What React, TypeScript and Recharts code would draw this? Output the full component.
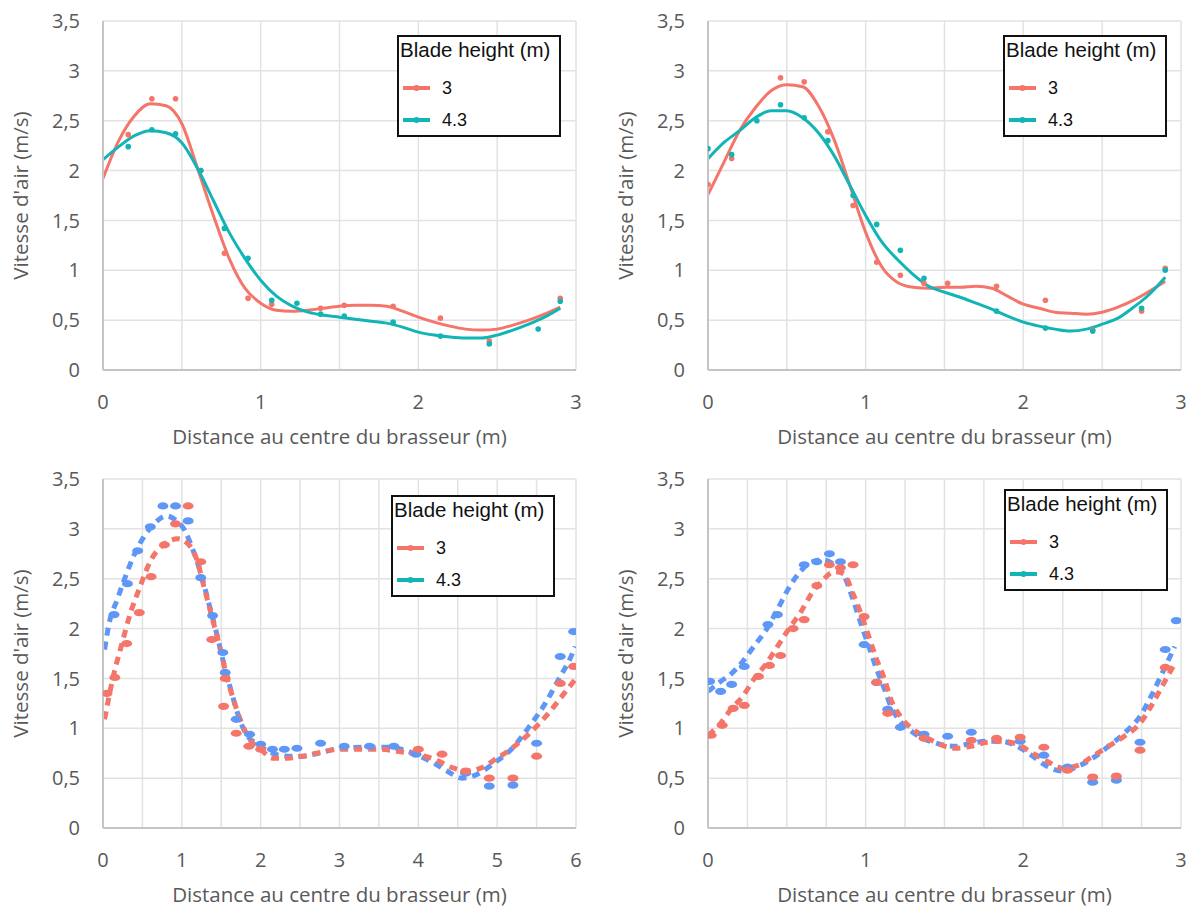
import React from "react";
import { ComposedChart, Line, Scatter, XAxis, YAxis, CartesianGrid } from "recharts";

// axes / labels
const Y_TICKS = [0, 0.5, 1, 1.5, 2, 2.5, 3, 3.5];
const X_TICKS_HALF_3 = [0, 0.5, 1, 1.5, 2, 2.5, 3];
const X_TICKS_HALF_6 = [0, 0.5, 1, 1.5, 2, 2.5, 3, 3.5, 4, 4.5, 5, 5.5, 6];
const X_TICKS_QUARTER_3 = [0, 0.25, 0.5, 0.75, 1, 1.25, 1.5, 1.75, 2, 2.25, 2.5, 2.75, 3];
const X_TITLE = "Distance au centre du brasseur (m)";
const Y_TITLE = "Vitesse d'air (m/s)";
const LEGEND_TITLE = "Blade height (m)";
const SERIES_NAMES = ["3", "4.3"];

const RED = "#F4756A";
const TEAL = "#12B4B6";
const BLUE = "#5F97F6";

// panel 1 (top left) — smoothed curves
const CURVE_X = [0, 0.1, 0.2, 0.3, 0.4, 0.5, 0.6, 0.7, 0.8, 0.9, 1.0, 1.1, 1.2, 1.3, 1.4, 1.5, 1.6, 1.7, 1.8, 1.9, 2.0, 2.1, 2.2, 2.3, 2.4, 2.5, 2.6, 2.7, 2.8, 2.9];
const P1_RED_Y = [1.92, 2.3, 2.55, 2.67, 2.65, 2.47, 2.02, 1.55, 1.12, 0.82, 0.67, 0.6, 0.59, 0.6, 0.62, 0.64, 0.65, 0.65, 0.64, 0.59, 0.53, 0.48, 0.44, 0.41, 0.4, 0.41, 0.45, 0.5, 0.56, 0.63];
const P1_TEAL_Y = [2.11, 2.24, 2.35, 2.4, 2.38, 2.28, 2.02, 1.7, 1.38, 1.12, 0.9, 0.74, 0.64, 0.58, 0.55, 0.53, 0.51, 0.49, 0.47, 0.43, 0.38, 0.35, 0.33, 0.32, 0.32, 0.35, 0.4, 0.46, 0.53, 0.62];
// panel 1 measured points
const P1_RED_DOT_X = [0.16, 0.31, 0.46, 0.62, 0.77, 0.92, 1.07, 1.38, 1.53, 1.84, 2.14, 2.45, 2.9];
const P1_RED_DOT_Y = [2.36, 2.72, 2.72, 2.0, 1.17, 0.72, 0.66, 0.62, 0.65, 0.64, 0.52, 0.29, 0.72];
const P1_TEAL_DOT_X = [0.16, 0.31, 0.46, 0.62, 0.77, 0.92, 1.07, 1.23, 1.38, 1.53, 1.84, 2.14, 2.45, 2.76, 2.9];
const P1_TEAL_DOT_Y = [2.24, 2.41, 2.37, 2.0, 1.42, 1.12, 0.7, 0.67, 0.56, 0.54, 0.48, 0.34, 0.26, 0.41, 0.69];

// panel 2 (top right)
const P2_RED_Y = [1.76, 2.08, 2.4, 2.63, 2.8, 2.86, 2.84, 2.65, 2.31, 1.85, 1.38, 1.04, 0.88, 0.83, 0.82, 0.83, 0.83, 0.84, 0.82, 0.74, 0.66, 0.62, 0.58, 0.57, 0.56, 0.58, 0.63, 0.7, 0.79, 0.89];
const P2_TEAL_Y = [2.12, 2.28, 2.4, 2.53, 2.6, 2.6, 2.53, 2.38, 2.15, 1.85, 1.55, 1.29, 1.11, 0.96, 0.84, 0.78, 0.73, 0.67, 0.61, 0.54, 0.48, 0.44, 0.41, 0.39, 0.41, 0.46, 0.52, 0.63, 0.76, 0.93];
const P2_RED_DOT_X = [0, 0.15, 0.46, 0.61, 0.76, 0.92, 1.07, 1.22, 1.37, 1.52, 1.83, 2.14, 2.44, 2.75, 2.9];
const P2_RED_DOT_Y = [1.86, 2.12, 2.93, 2.89, 2.39, 1.65, 1.08, 0.95, 0.87, 0.87, 0.84, 0.7, 0.4, 0.59, 1.02];
const P2_TEAL_DOT_X = [0, 0.15, 0.31, 0.46, 0.61, 0.76, 0.92, 1.07, 1.22, 1.37, 1.83, 2.14, 2.44, 2.75, 2.9];
const P2_TEAL_DOT_Y = [2.22, 2.16, 2.5, 2.66, 2.53, 2.3, 1.75, 1.46, 1.2, 0.92, 0.59, 0.42, 0.39, 0.62, 1.0];

// panel 3 (bottom left) — dashed simulation lines, 0..6 m
const P3_RED_X = [0.02, 0.13, 0.23, 0.35, 0.47, 0.61, 0.75, 0.95, 1.09, 1.19, 1.28, 1.38, 1.48, 1.57, 1.67, 1.76, 1.86, 2.0, 2.15, 2.34, 2.53, 2.77, 3.0, 3.25, 3.5, 3.73, 3.97, 4.2, 4.45, 4.6, 4.79, 4.98, 5.17, 5.41, 5.65, 5.85, 5.99];
const P3_RED_Y = [1.09, 1.52, 1.82, 2.16, 2.42, 2.69, 2.83, 2.9, 2.84, 2.69, 2.42, 2.12, 1.82, 1.52, 1.25, 1.05, 0.89, 0.79, 0.7, 0.7, 0.72, 0.76, 0.79, 0.79, 0.79, 0.77, 0.74, 0.69, 0.6, 0.57, 0.6, 0.69, 0.79, 0.95, 1.15, 1.35, 1.49];
const P3_BLUE_X = [0.02, 0.08, 0.18, 0.27, 0.39, 0.51, 0.66, 0.8, 0.92, 1.04, 1.14, 1.24, 1.33, 1.43, 1.52, 1.62, 1.72, 1.81, 1.96, 2.15, 2.34, 2.53, 2.73, 3.01, 3.3, 3.59, 3.78, 4.02, 4.22, 4.41, 4.55, 4.75, 4.94, 5.18, 5.41, 5.61, 5.8, 5.92, 5.99];
const P3_BLUE_Y = [1.79, 2.06, 2.29, 2.49, 2.73, 2.91, 3.06, 3.13, 3.09, 2.98, 2.79, 2.56, 2.29, 1.99, 1.69, 1.39, 1.12, 0.95, 0.84, 0.75, 0.72, 0.72, 0.75, 0.8, 0.81, 0.81, 0.79, 0.72, 0.64, 0.55, 0.5, 0.54, 0.64, 0.79, 1.02, 1.25, 1.52, 1.69, 1.82];
const P3_BLUE_DOT_X = [0.14, 0.31, 0.44, 0.6, 0.76, 0.92, 1.08, 1.24, 1.39, 1.52, 1.55, 1.69, 1.86, 2.0, 2.15, 2.3, 2.46, 2.76, 3.06, 3.38, 3.69, 3.97, 4.6, 4.9, 5.2, 5.5, 5.8, 5.97];
const P3_BLUE_DOT_Y = [2.14, 2.45, 2.78, 3.02, 3.23, 3.23, 3.08, 2.51, 2.13, 1.76, 1.56, 1.09, 0.94, 0.84, 0.79, 0.79, 0.8, 0.85, 0.82, 0.82, 0.82, 0.74, 0.55, 0.42, 0.43, 0.85, 1.72, 1.97];
const P3_RED_DOT_X = [0.05, 0.15, 0.3, 0.46, 0.61, 0.78, 0.92, 1.08, 1.24, 1.38, 1.53, 1.55, 1.69, 1.85, 2.0, 4.0, 4.3, 4.6, 4.9, 5.2, 5.5, 5.8, 5.97];
const P3_RED_DOT_Y = [1.35, 1.51, 1.85, 2.16, 2.52, 2.84, 3.05, 3.23, 2.67, 1.89, 1.22, 1.5, 0.95, 0.82, 0.79, 0.79, 0.74, 0.57, 0.5, 0.5, 0.72, 1.45, 1.62];

// panel 4 (bottom right)
const P4_X = [0, 0.08, 0.15, 0.22, 0.29, 0.37, 0.44, 0.51, 0.59, 0.66, 0.73, 0.8, 0.86, 0.92, 0.97, 1.02, 1.07, 1.12, 1.16, 1.22, 1.29, 1.36, 1.43, 1.5, 1.57, 1.67, 1.77, 1.86, 1.96, 2.06, 2.15, 2.25, 2.35, 2.44, 2.54, 2.64, 2.74, 2.81, 2.88, 2.96];
const P4_RED_Y = [0.93, 1.05, 1.2, 1.32, 1.49, 1.65, 1.82, 1.99, 2.17, 2.36, 2.49, 2.57, 2.55, 2.35, 2.15, 1.92, 1.69, 1.49, 1.29, 1.12, 1.0, 0.93, 0.87, 0.82, 0.8, 0.82, 0.86, 0.87, 0.84, 0.75, 0.67, 0.6, 0.63, 0.72, 0.82, 0.92, 1.05, 1.22, 1.42, 1.65];
const P4_BLUE_Y = [1.37, 1.47, 1.55, 1.67, 1.82, 1.99, 2.19, 2.4, 2.58, 2.67, 2.69, 2.64, 2.54, 2.29, 2.05, 1.82, 1.59, 1.39, 1.22, 1.07, 0.97, 0.9, 0.86, 0.83, 0.82, 0.85, 0.87, 0.87, 0.82, 0.72, 0.62, 0.57, 0.62, 0.7, 0.82, 0.95, 1.12, 1.32, 1.55, 1.82];
const P4_BLUE_DOT_X = [0.01, 0.08, 0.15, 0.23, 0.38, 0.44, 0.61, 0.69, 0.77, 0.84, 0.99, 1.07, 1.14, 1.22, 1.37, 1.52, 1.67, 1.98, 2.13, 2.28, 2.44, 2.59, 2.74, 2.9, 2.97];
const P4_BLUE_DOT_Y = [1.47, 1.37, 1.44, 1.62, 2.04, 2.14, 2.64, 2.67, 2.75, 2.67, 1.84, 1.46, 1.19, 1.01, 0.94, 0.92, 0.96, 0.87, 0.73, 0.61, 0.46, 0.48, 0.86, 1.79, 2.08];
const P4_RED_DOT_X = [0.02, 0.09, 0.16, 0.23, 0.32, 0.39, 0.46, 0.54, 0.61, 0.69, 0.77, 0.84, 0.92, 0.99, 1.07, 1.14, 1.37, 1.67, 1.83, 1.98, 2.13, 2.28, 2.44, 2.59, 2.74, 2.9];
const P4_RED_DOT_Y = [0.93, 1.03, 1.2, 1.23, 1.52, 1.63, 1.73, 2.0, 2.09, 2.43, 2.64, 2.61, 2.64, 2.12, 1.46, 1.15, 0.9, 0.88, 0.9, 0.91, 0.81, 0.58, 0.51, 0.52, 0.78, 1.61];

const zip = (xs: number[], ys: number[]) => xs.map((x, i) => ({ x, y: ys[i] }));

const FONT = "'Open Sans', sans-serif";
const tickFont = { fill: "#595959", fontSize: 20, fontFamily: FONT };
const titleFont = { fill: "#595959", fontSize: 20.5, fontFamily: FONT };

type SeriesDef = { data: { x: number; y: number }[]; color: string };

const roundDot = (color: string) => (p: any) => <circle cx={p.cx} cy={p.cy} r={2.8} fill={color} />;
const ovalDot = (color: string) => (p: any) => <ellipse cx={p.cx} cy={p.cy} rx={5.5} ry={3.6} fill={color} />;

const LegendBox = ({ left, top }: { left: number; top: number }) => (
  <div
    style={{
      position: "absolute",
      left,
      top,
      width: 160,
      height: 98,
      border: "2px solid #111",
      background: "#fff",
      fontFamily: "'Liberation Sans', Arial, sans-serif",
      color: "#111",
    }}
  >
    <div style={{ position: "absolute", left: 1, top: 1, fontSize: 20.5, whiteSpace: "nowrap" }}>{LEGEND_TITLE}</div>
    {SERIES_NAMES.map((name, i) => (
      <div key={name} style={{ position: "absolute", left: 0, top: 41 + i * 32, height: 20, width: 150 }}>
        <svg width={40} height={20} style={{ position: "absolute", left: 0, top: 0 }}>
          <line x1={4} y1={10} x2={31} y2={10} stroke={i === 0 ? RED : TEAL} strokeWidth={4} />
          <circle cx={17.5} cy={10} r={3} fill={i === 0 ? RED : TEAL} />
        </svg>
        <span style={{ position: "absolute", left: 43, top: 0, fontSize: 18, lineHeight: "20px" }}>{name}</span>
      </div>
    ))}
  </div>
);

type PanelProps = {
  left: number;
  top: number;
  xMax: number;
  xTicks: number[];
  lines: SeriesDef[];
  dots: SeriesDef[];
  dashed: boolean;
  legendLeft: number;
  legendTop: number;
};

const Panel = ({ left, top, xMax, xTicks, lines, dots, dashed, legendLeft, legendTop }: PanelProps) => (
  <div style={{ position: "absolute", left, top, width: 593, height: 453 }}>
    <ComposedChart width={593} height={453} margin={{ top: 21, right: 17, bottom: 0, left: 0 }}>
      <CartesianGrid stroke="#e2e2e2" strokeWidth={1.5} />
      <XAxis
        type="number"
        dataKey="x"
        domain={[0, xMax]}
        ticks={xTicks}
        interval={0}
        allowDataOverflow
        height={83}
        tickLine={false}
        tickSize={0}
        tickMargin={25}
        axisLine={{ stroke: "#c4c4c4", strokeWidth: 2 }}
        tick={tickFont}
        tickFormatter={(v: number) => (Number.isInteger(v) ? String(v) : "")}
        label={{ value: X_TITLE, position: "insideBottom", offset: 9, ...titleFont }}
      />
      <YAxis
        type="number"
        dataKey="y"
        domain={[0, 3.5]}
        ticks={Y_TICKS}
        interval={0}
        allowDataOverflow
        width={103}
        tickLine={false}
        tickSize={0}
        tickMargin={23}
        axisLine={{ stroke: "#c4c4c4", strokeWidth: 2 }}
        tick={tickFont}
        tickFormatter={(v: number) => String(v).replace(".", ",")}
        label={{ value: Y_TITLE, angle: -90, position: "insideLeft", offset: 21, ...titleFont, style: { textAnchor: "middle" } }}
      />
      {lines.map((s, i) => (
        <Line
          key={`l${i}`}
          data={s.data}
          dataKey="y"
          type="monotone"
          stroke={s.color}
          strokeWidth={dashed ? 5 : 3}
          strokeDasharray={dashed ? "8 6" : undefined}
          dot={false}
          activeDot={false}
          isAnimationActive={false}
        />
      ))}
      {dots.map((s, i) => (
        <Scatter
          key={`d${i}`}
          data={s.data}
          dataKey="y"
          fill={s.color}
          shape={dashed ? ovalDot(s.color) : roundDot(s.color)}
          isAnimationActive={false}
        />
      ))}
    </ComposedChart>
    <LegendBox left={legendLeft} top={legendTop} />
  </div>
);

export default function App() {
  return (
    <div style={{ position: "absolute", left: 0, top: 0, width: 1186, height: 907, overflow: "hidden", background: "#fff" }}>
      <Panel
        left={0}
        top={0}
        xMax={3}
        xTicks={X_TICKS_HALF_3}
        dashed={false}
        lines={[
          { data: zip(CURVE_X, P1_RED_Y), color: RED },
          { data: zip(CURVE_X, P1_TEAL_Y), color: TEAL },
        ]}
        dots={[
          { data: zip(P1_RED_DOT_X, P1_RED_DOT_Y), color: RED },
          { data: zip(P1_TEAL_DOT_X, P1_TEAL_DOT_Y), color: TEAL },
        ]}
        legendLeft={397}
        legendTop={35}
      />
      <Panel
        left={605}
        top={0}
        xMax={3}
        xTicks={X_TICKS_HALF_3}
        dashed={false}
        lines={[
          { data: zip(CURVE_X, P2_RED_Y), color: RED },
          { data: zip(CURVE_X, P2_TEAL_Y), color: TEAL },
        ]}
        dots={[
          { data: zip(P2_RED_DOT_X, P2_RED_DOT_Y), color: RED },
          { data: zip(P2_TEAL_DOT_X, P2_TEAL_DOT_Y), color: TEAL },
        ]}
        legendLeft={398}
        legendTop={35}
      />
      <Panel
        left={0}
        top={458}
        xMax={6}
        xTicks={X_TICKS_HALF_6}
        dashed
        lines={[
          { data: zip(P3_BLUE_X, P3_BLUE_Y), color: BLUE },
          { data: zip(P3_RED_X, P3_RED_Y), color: RED },
        ]}
        dots={[
          { data: zip(P3_BLUE_DOT_X, P3_BLUE_DOT_Y), color: BLUE },
          { data: zip(P3_RED_DOT_X, P3_RED_DOT_Y), color: RED },
        ]}
        legendLeft={391}
        legendTop={37}
      />
      <Panel
        left={605}
        top={458}
        xMax={3}
        xTicks={X_TICKS_QUARTER_3}
        dashed
        lines={[
          { data: zip(P4_X, P4_BLUE_Y), color: BLUE },
          { data: zip(P4_X, P4_RED_Y), color: RED },
        ]}
        dots={[
          { data: zip(P4_BLUE_DOT_X, P4_BLUE_DOT_Y), color: BLUE },
          { data: zip(P4_RED_DOT_X, P4_RED_DOT_Y), color: RED },
        ]}
        legendLeft={399}
        legendTop={31}
      />
    </div>
  );
}
